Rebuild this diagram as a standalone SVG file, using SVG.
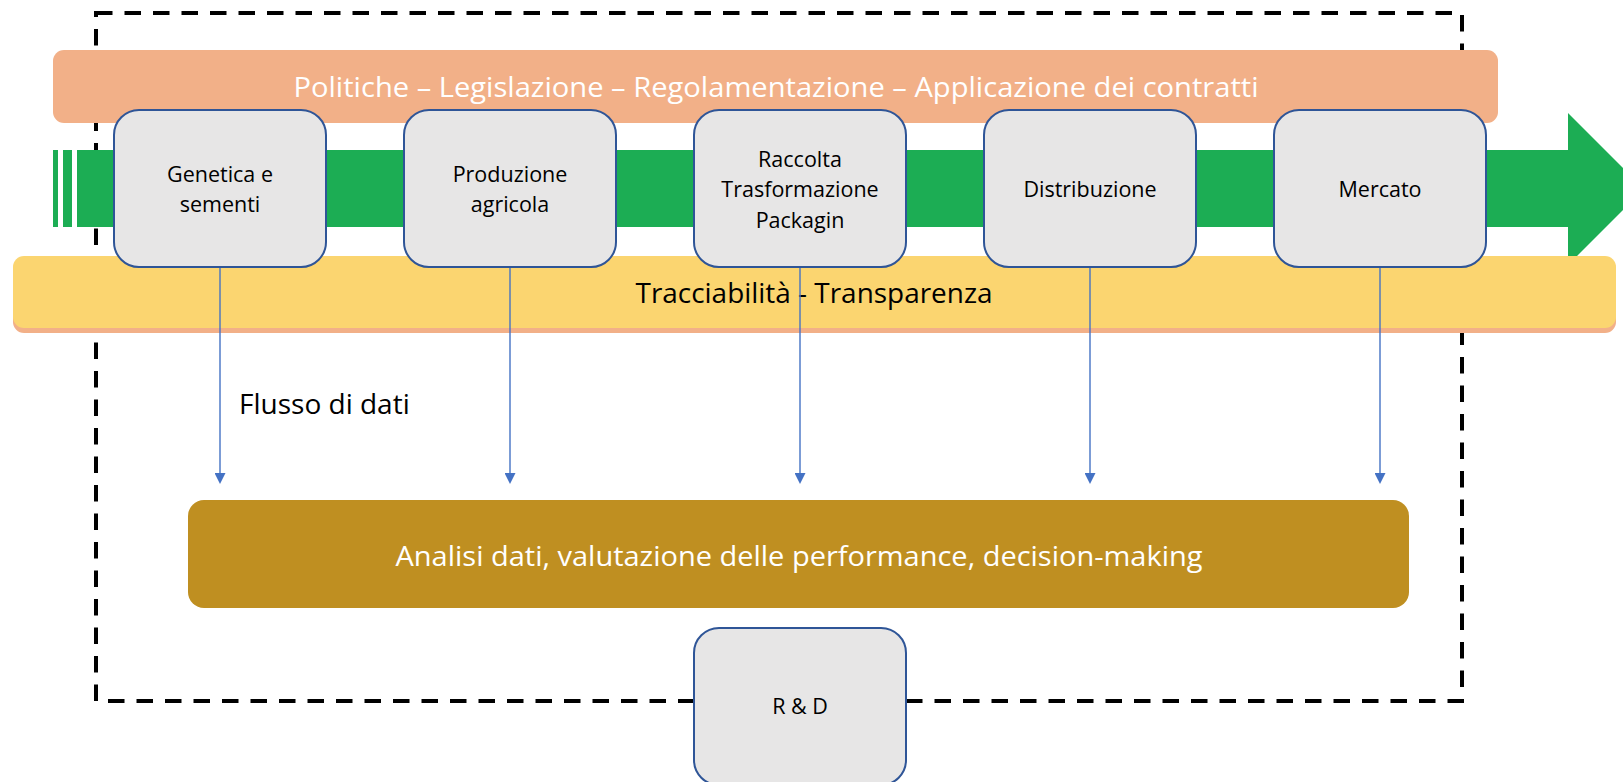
<svg xmlns="http://www.w3.org/2000/svg" width="1623" height="782" viewBox="0 0 1623 782">
<style>
  .node rect { fill: #E7E6E6; stroke: #2F5597; stroke-width: 2; }
  .nt { font-family: "Open Sans", "Liberation Sans", sans-serif; font-size: 21.5px; fill: #000; text-anchor: middle; }
  .big { font-family: "Open Sans", "Liberation Sans", sans-serif; font-size: 28px; }
  .flow { stroke: #4472C4; stroke-width: 1.4; fill: none; marker-end: url(#ah); }
</style>
<defs>
  <marker id="ah" markerUnits="userSpaceOnUse" markerWidth="12" markerHeight="11" refX="0" refY="5.5" orient="auto" viewBox="0 0 12 11">
    <path d="M0,0 L11,5.5 L0,11 Z" fill="#4472C4"/>
  </marker>
</defs>
<rect width="1623" height="782" fill="#FFFFFF"/>

<g id="boundary">
  <rect x="96" y="13" width="1366" height="688" fill="none" stroke="#000" stroke-width="4" stroke-dasharray="16.5 12"/>
</g>

<g id="policy-bar">
  <rect x="53" y="50" width="1445" height="73" rx="11" fill="#F2B088"/>
  <text class="big" x="776" y="97" fill="#FFFFFF" text-anchor="middle" font-size="29" textLength="965" lengthAdjust="spacingAndGlyphs">Politiche – Legislazione – Regolamentazione – Applicazione dei contratti</text>
</g>

<g id="value-chain-arrow" fill="#1CAD54">
  <rect x="53" y="150" width="5" height="77"/>
  <rect x="63" y="150" width="9" height="77"/>
  <path d="M77,150 L1568,150 L1568,113 L1644,189 L1568,265 L1568,227 L77,227 Z"/>
</g>

<g id="traceability-bar">
  <rect x="13" y="260" width="1603" height="73" rx="11" fill="#F2B088"/>
  <rect x="13" y="256" width="1603" height="72" rx="11" fill="#FBD570"/>
  <text class="big" x="814" y="303" fill="#000" text-anchor="middle" textLength="357" lengthAdjust="spacingAndGlyphs">Tracciabilità - Transparenza</text>
</g>

<g id="connectors">
  <line class="flow" x1="220" y1="267" x2="220" y2="473"/>
  <line class="flow" x1="510" y1="267" x2="510" y2="473"/>
  <line class="flow" x1="800" y1="267" x2="800" y2="473"/>
  <line class="flow" x1="1090" y1="267" x2="1090" y2="473"/>
  <line class="flow" x1="1380" y1="267" x2="1380" y2="473"/>
</g>

<g id="flow-label">
  <text class="big" x="239" y="414" fill="#000">Flusso di dati</text>
</g>

<g id="node-genetica" class="node">
  <rect x="114" y="110" width="212" height="157" rx="25"/>
  <text class="nt" x="220" y="182">Genetica e</text>
  <text class="nt" x="220" y="212">sementi</text>
</g>
<g id="node-produzione" class="node">
  <rect x="404" y="110" width="212" height="157" rx="25"/>
  <text class="nt" x="510" y="182">Produzione</text>
  <text class="nt" x="510" y="212">agricola</text>
</g>
<g id="node-raccolta" class="node">
  <rect x="694" y="110" width="212" height="157" rx="25"/>
  <text class="nt" x="800" y="167">Raccolta</text>
  <text class="nt" x="800" y="197">Trasformazione</text>
  <text class="nt" x="800" y="228">Packagin</text>
</g>
<g id="node-distribuzione" class="node">
  <rect x="984" y="110" width="212" height="157" rx="25"/>
  <text class="nt" x="1090" y="197">Distribuzione</text>
</g>
<g id="node-mercato" class="node">
  <rect x="1274" y="110" width="212" height="157" rx="25"/>
  <text class="nt" x="1380" y="197">Mercato</text>
</g>

<g id="node-analisi">
  <rect x="188" y="500" width="1221" height="108" rx="16" fill="#BF8F21"/>
  <text class="big" x="799" y="566" fill="#FFFFFF" text-anchor="middle" textLength="807" lengthAdjust="spacingAndGlyphs">Analisi dati, valutazione delle performance, decision-making</text>
</g>

<g id="node-rd" class="node">
  <rect x="694" y="628" width="212" height="157" rx="25"/>
  <text class="nt" x="800" y="714">R &amp; D</text>
</g>
</svg>
